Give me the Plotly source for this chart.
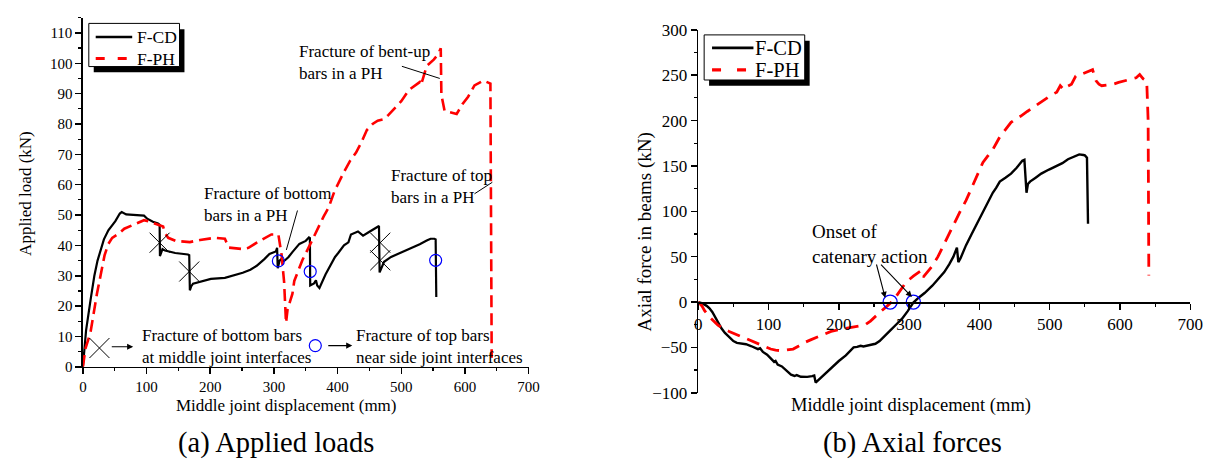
import plotly.graph_objects as go

# ---------------- data ----------------
# (a) Applied loads
cd_load_x = [0, 5, 12, 18, 23, 33, 40, 51, 58, 61, 68, 80, 96, 101, 110, 118, 120.5, 121, 123, 125, 129, 145, 165, 167, 168, 170, 173, 185, 201, 223, 240, 251, 263, 273, 285, 293, 303, 305, 306, 309, 312, 315, 318, 323, 329, 340, 350, 355, 356.5, 357, 363, 366, 368, 371.5, 381, 396, 401, 410, 417, 421, 432, 440, 450, 463, 465, 466, 470, 473, 484, 495, 507, 518, 529, 540, 546, 552, 554, 555]
cd_load_y = [0, 12, 22, 30, 35, 42, 45, 48, 50.5, 51, 50.2, 50, 49.8, 48.8, 47.8, 47.2, 46.8, 36.5, 38, 38.8, 38.3, 37.5, 37, 36.8, 25.2, 26.5, 27.4, 28, 29, 29.3, 30.2, 31, 32, 33.3, 35.5, 37.2, 38, 39.2, 32.5, 35, 35.6, 34.8, 35.2, 36.2, 37.8, 40.5, 41.5, 42.6, 42.4, 26.8, 27.5, 28.5, 26.8, 26, 30.4, 36.2, 37.5, 40, 41, 43.6, 44.6, 43.2, 44.5, 46.4, 46.4, 31.1, 33.5, 34.6, 36.2, 37.2, 38.3, 39.3, 40.4, 41.6, 42.2, 42.2, 42, 23]

ph_load_x = [0, 4, 12, 22, 34, 40, 46, 57, 65, 79, 96, 105, 112, 120, 126, 129, 134, 146, 168, 184, 207, 223, 229, 251, 260, 273, 285, 296, 307, 312, 316, 319, 321.5, 329, 332, 338.7, 344.8, 355, 362, 370.7, 378, 386, 395, 410, 420, 429, 437, 446, 455, 463, 473, 480, 490, 500, 512, 520, 529, 531, 540, 551, 558, 562, 563, 568, 579, 587, 596, 605, 615, 622, 629, 640, 641, 642]
ph_load_y = [0, 6, 11.4, 24, 36.7, 40.5, 42.5, 44, 45.5, 46.7, 48.3, 47.8, 47.3, 46.6, 46.2, 44, 42.5, 41.5, 41.1, 41.8, 42.5, 42.2, 39.3, 38.8, 39.2, 40.9, 42.2, 43.6, 43.6, 37, 28, 14.5, 19, 24, 28.3, 32, 35.2, 39.5, 42.5, 46.8, 49.5, 52.5, 57.8, 64.2, 68, 70.6, 73.8, 78, 80, 81.1, 81.6, 83, 85.4, 87.5, 91.2, 92.5, 93.8, 92.8, 99.1, 101.2, 103, 104.9, 89.6, 84.3, 83.8, 83.3, 86.5, 89, 92.7, 93.5, 94.3, 93.3, 60, 3]

# fracture marks (a)
bottom_bar_x = [120.5, 167, 467, 467]
bottom_bar_y = [40.9, 31.4, 40.9, 35.1]
top_bar_x = [307, 357, 554]
top_bar_y = [34.9, 31.4, 35.1]

# (b) Axial forces
cd_axial_x = [0, 6, 12, 16, 20, 26, 33, 38, 44, 50, 55, 62, 68, 75, 81, 85, 88, 92, 98, 103, 108, 110, 113, 119, 125, 132, 137, 140, 146, 155, 162, 165, 167, 170, 175, 183, 191, 200, 210, 216, 221, 226, 231, 235, 240, 247, 252, 258, 265, 274, 282, 290, 298, 306, 314, 322, 333, 344, 350, 357, 363, 368, 370, 373, 381, 389, 397, 405, 413, 419, 424, 429, 437, 445, 453, 461, 464, 466, 467, 469, 472, 480, 488, 499, 510, 518, 526, 535, 542, 548, 550, 553, 554.5]
cd_axial_y = [0, -1.5, -4.2, -7, -11, -19, -29, -34, -39, -43, -45, -46, -46.5, -48.5, -50.7, -52, -51, -55, -58, -62, -66, -65, -69, -71, -75, -80, -81.5, -80.5, -82.4, -82.5, -81.7, -81, -88.7, -86.5, -83.5, -77, -71, -65, -58.8, -54, -50, -49.5, -48.2, -49, -48, -47.2, -46, -43, -38, -30.6, -24.5, -18.3, -10, -0.7, 5, 9.9, 18, 27.5, 33, 41.5, 50, 60, 44, 48, 62.7, 75, 87.3, 100, 112, 120.4, 126, 132.7, 137, 141.5, 148, 155.6, 156.7, 125, 120.4, 130, 132.7, 137, 141.5, 146, 150.4, 153, 157.4, 160, 162.7, 162, 161.6, 159, 86.3]

ph_axial_x = [0, 5, 9, 18, 28, 36, 44, 55, 65, 73, 81, 92, 103, 110, 116, 125, 135, 143, 151, 159, 167, 178, 189, 200, 210, 225, 237, 245, 253, 261, 269, 275, 280, 288, 296, 306, 317, 320, 326, 333, 341, 349, 357, 365, 373, 381, 387, 392, 399, 405, 412, 419, 424, 429, 437, 445, 452, 459, 468, 478, 486, 494, 502, 510, 515, 520, 526, 531, 537, 545, 552, 561, 566, 570, 574, 582, 590, 598, 606, 615, 623, 628, 633, 638, 640, 641]
ph_axial_y = [0, -4, -9.5, -18, -25.4, -29.5, -32.4, -36, -39.4, -42, -44.7, -48, -51.8, -53, -53.5, -53, -51.8, -48.5, -44.7, -42, -39.4, -36, -32.4, -30.5, -28.9, -27, -25.4, -21, -14.8, -9.5, -4.2, 0, 4.6, 13, 22.2, 28.5, 34.5, 27.5, 33, 39.8, 50, 62.7, 76, 89, 100.5, 112, 122, 131, 143, 153.9, 161, 168, 175, 182, 190, 198, 202, 205, 210, 215.5, 220, 224.3, 228, 231.3, 238.4, 234, 238, 240, 249, 251, 253, 256, 243.7, 240, 238.4, 239, 240, 242, 243.7, 245, 247.2, 250.7, 246, 243.7, 200, 29.2]

onset_x = [273, 306]
onset_y = [0, 0]

series_names = ["F-CD", "F-PH"]
x_ticks = [0, 100, 200, 300, 400, 500, 600, 700]
load_ticks = [0, 10, 20, 30, 40, 50, 60, 70, 80, 90, 100, 110]
axial_ticks = [-100, -50, 0, 50, 100, 150, 200, 250, 300]

# ---------------- figure ----------------
W, H = 1225, 468
FONT = "'Liberation Serif', 'Times New Roman', Times, serif"
def px(x):
    return x / W
def py(y):
    return (H - y) / H

fig = go.Figure()

fig.add_trace(go.Scatter(x=cd_load_x, y=cd_load_y, mode="lines", name=series_names[0],
                         line=dict(color="black", width=2.2), showlegend=False,
                         xaxis="x", yaxis="y"))
fig.add_trace(go.Scatter(x=ph_load_x, y=ph_load_y, mode="lines", name=series_names[1],
                         line=dict(color="#ff0000", width=2.6, dash="12px,6px"), showlegend=False,
                         xaxis="x", yaxis="y"))
fig.add_trace(go.Scatter(x=bottom_bar_x + [26], y=bottom_bar_y + [6.2], mode="markers", showlegend=False,
                         marker=dict(symbol="x-thin", size=20, color="black", line=dict(width=1, color="black")),
                         xaxis="x", yaxis="y"))
fig.add_trace(go.Scatter(x=top_bar_x + [365], y=top_bar_y + [7.0], mode="markers", showlegend=False,
                         marker=dict(symbol="circle-open", size=12, color="#0000ff", line=dict(width=1.2, color="#0000ff")),
                         xaxis="x", yaxis="y"))

fig.add_trace(go.Scatter(x=cd_axial_x, y=cd_axial_y, mode="lines", name=series_names[0],
                         line=dict(color="black", width=2.4), showlegend=False,
                         xaxis="x2", yaxis="y2"))
fig.add_trace(go.Scatter(x=ph_axial_x, y=ph_axial_y, mode="lines", name=series_names[1],
                         line=dict(color="#ff0000", width=2.8, dash="13px,8px"), showlegend=False,
                         xaxis="x2", yaxis="y2"))
fig.add_trace(go.Scatter(x=onset_x, y=onset_y, mode="markers", showlegend=False,
                         marker=dict(symbol="circle-open", size=14, color="#0000ff", line=dict(width=1.3, color="#0000ff")),
                         xaxis="x2", yaxis="y2"))

axis_common = dict(showline=True, linecolor="black", linewidth=1.5, ticks="outside",
                   ticklen=6, tickwidth=1.5, tickcolor="black", showgrid=False, zeroline=False,
                   fixedrange=True)

fig.update_layout(
    width=W, height=H,
    margin=dict(l=0, r=0, t=0, b=0),
    paper_bgcolor="white", plot_bgcolor="rgba(0,0,0,0)",
    font=dict(family=FONT, color="black"),
    showlegend=False,
    xaxis=dict(domain=[px(80), px(532)], range=[0, 700], tickvals=x_ticks,
               anchor="y", tickfont=dict(size=15, family=FONT),
               minor=dict(dtick=50, ticks="outside", ticklen=3, tickcolor="black", tickwidth=1.2),
               **axis_common),
    yaxis=dict(domain=[py(373), py(9.1)], range=[0, 115], tickvals=load_ticks,
               anchor="x", tickfont=dict(size=15, family=FONT),
               minor=dict(dtick=5, ticks="outside", ticklen=3, tickcolor="black", tickwidth=1.2),
               **axis_common),
    xaxis2=dict(domain=[px(704), px(1203)], range=[0, 700], tickvals=x_ticks,
                anchor="free", position=py(305.5), tickfont=dict(size=17, family=FONT),
                minor=dict(dtick=50, ticks="outside", ticklen=3, tickcolor="black", tickwidth=1.2),
                **axis_common),
    yaxis2=dict(domain=[py(400), py(21.7)], range=[-100, 300], tickvals=axial_ticks,
                anchor="x2", tickfont=dict(size=17, family=FONT),
                minor=dict(dtick=25, ticks="outside", ticklen=3, tickcolor="black", tickwidth=1.2),
                **axis_common),
)

shapes = []
ann = []

def text(x, y, s, size, xref="x", yref="y", xanchor="left", angle=0):
    ann.append(dict(x=x, y=y, xref=xref, yref=yref, text=s, showarrow=False,
                    xanchor=xanchor, yanchor="middle", align="left", textangle=angle,
                    font=dict(size=size, family=FONT, color="black")))

# legend boxes (box with drop shadow, line samples, labels)
def legend_box(bx0, bx1, by0, by1, lx0, lx1, rows, tx, fsize, lw, dash):
    shapes.append(dict(type="rect", xref="paper", yref="paper", x0=px(bx0 + 5), x1=px(bx1 + 5),
                       y0=py(by1 + 6), y1=py(by0 + 6), fillcolor="black", line=dict(width=0), layer="above"))
    shapes.append(dict(type="rect", xref="paper", yref="paper", x0=px(bx0), x1=px(bx1),
                       y0=py(by1), y1=py(by0), fillcolor="white", line=dict(width=1, color="black"), layer="above"))
    shapes.append(dict(type="line", xref="paper", yref="paper", x0=px(lx0), x1=px(lx1),
                       y0=py(rows[0]), y1=py(rows[0]), line=dict(width=lw, color="black"), layer="above"))
    shapes.append(dict(type="line", xref="paper", yref="paper", x0=px(lx0), x1=px(lx1),
                       y0=py(rows[1]), y1=py(rows[1]), line=dict(width=lw + 0.5, color="#ff0000", dash=dash),
                       layer="above"))
    for r, name in zip(rows, series_names):
        text(px(tx), py(r), name, fsize, xref="paper", yref="paper")

legend_box(86, 178, 15, 60, 93, 130, [29.3, 51.7], 133, 17.5, 2.5, "9px,13px")
legend_box(710, 812, 27, 74, 718, 760, [40.5, 63.5], 760, 20.5, 2.8, "9px,16px")

# leader lines (a)
leaders = [((337, 51.5), (319.5, 38.5)), ((501, 99), (560.5, 95)), ((615, 57), (643, 60.8))]
for (x0, y0), (x1, y1) in leaders:
    shapes.append(dict(type="line", xref="x", yref="y", x0=x0, y0=y0, x1=x1, y1=y1,
                       line=dict(color="black", width=1)))

text(90, 6.65, "Fracture of bottom bars<br>at middle joint interfaces", 17)
text(426, 6.65, "Fracture of top bars<br>near side joint interfaces", 17)
text(187, 53.6, "Fracture of bottom<br>bars in a PH", 17)
text(337, 100.1, "Fracture of bent-up<br>bars in a PH", 17)
text(480, 59.3, "Fracture of top<br>bars in a PH", 17)
text(159, 64.1, "Onset of<br>catenary action", 19, xref="x2", yref="y2")

# axis titles and captions
text(px(22), py(192), "Applied load (kN)", 17, xref="paper", yref="paper", xanchor="center", angle=-90)
text(px(650), py(232), "Axial force in beams (kN)", 19, xref="paper", yref="paper", xanchor="center", angle=-90)
text(px(286), py(413), "Middle joint displacement (mm)", 17, xref="paper", yref="paper", xanchor="center")
text(px(920), py(413), "Middle joint displacement (mm)", 18.5, xref="paper", yref="paper", xanchor="center")
text(px(276), py(452), "(a) Applied loads", 28.5, xref="paper", yref="paper", xanchor="center")
text(px(921), py(452), "(b) Axial forces", 28.5, xref="paper", yref="paper", xanchor="center")

# arrows
def arrow(x, y, ax, ay, xref="x", yref="y"):
    ann.append(dict(x=x, y=y, ax=ax, ay=ay, xref=xref, yref=yref, axref=xref, ayref=yref,
                    text="", showarrow=True, arrowhead=2, arrowsize=1.1, arrowwidth=1.1,
                    arrowcolor="black", standoff=0, startstandoff=0))

arrow(79, 6.6, 43, 6.6)
arrow(423, 7.0, 383, 7.0)
arrow(266, 4.6, 253, 43, xref="x2", yref="y2")
arrow(304, 5.6, 258, 43, xref="x2", yref="y2")

fig.update_layout(annotations=ann, shapes=shapes)

# remove the browser's default page margin so the figure sits at the window origin
fig.write_html("out.html", config={"displayModeBar": False, "staticPlot": True},
               post_script="document.body.style.margin='0';document.body.style.overflow='hidden';")
